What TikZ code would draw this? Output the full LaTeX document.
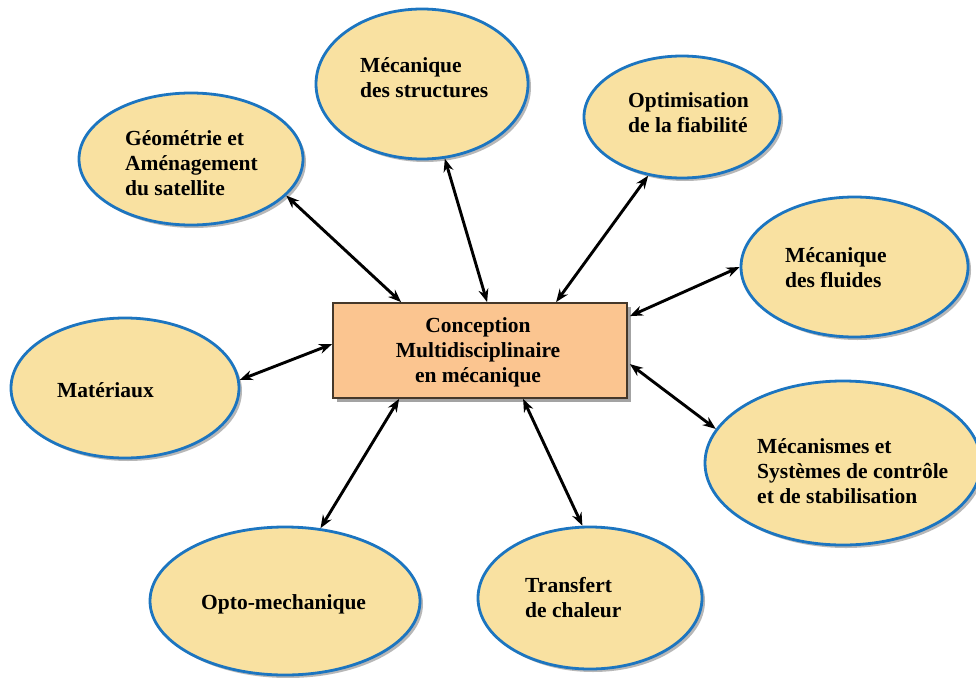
\documentclass[tikz,border=0pt]{standalone}
\usepackage{fontspec}
\setmainfont{Liberation Serif}
\usetikzlibrary{shapes.geometric,shadows,arrows.meta}

\definecolor{bubblefill}{HTML}{F9E1A1}
\definecolor{bubbleline}{HTML}{1C75C0}
\definecolor{corefill}{HTML}{FBC590}
\definecolor{coreline}{HTML}{45382A}

\tikzset{
  bubble/.style={ellipse, draw=bubbleline, line width=2.8pt, fill=bubblefill,
    inner sep=0pt,
    drop shadow={shadow xshift=3pt, shadow yshift=-3pt, fill=black!35, opacity=0.8}},
  core/.style={rectangle, draw=coreline, line width=1.8pt, fill=corefill,
    inner sep=0pt, minimum width=294pt, minimum height=95pt,
    drop shadow={shadow xshift=4pt, shadow yshift=-4pt, fill=black!40, opacity=0.9}},
  txt/.style={font=\fontsize{21.5}{25}\selectfont\bfseries, inner sep=0pt},
  label/.style={txt, anchor=base west, align=left},
  link/.style={line width=2.9pt, {Stealth[length=13pt,width=10pt]}-{Stealth[length=13pt,width=10pt]}}
}

\begin{document}
\begin{tikzpicture}[x=1pt,y=-1pt]
\clip (0,0) rectangle (976,677);
\fill[white] (0,0) rectangle (976,677);

% surrounding disciplines
\node[bubble, minimum width=212pt, minimum height=150pt] (struct) at (422,84) {};
\node[bubble, minimum width=196pt, minimum height=122pt] (optim) at (682,117) {};
\node[bubble, minimum width=224pt, minimum height=132pt] (geo) at (191,159) {};
\node[bubble, minimum width=227pt, minimum height=140pt] (fluid) at (854.5,267) {};
\node[bubble, minimum width=228pt, minimum height=140pt] (mat) at (125,388) {};
\node[bubble, minimum width=276pt, minimum height=164pt] (meca) at (843,463) {};
\node[bubble, minimum width=270pt, minimum height=148pt] (opto) at (285,601) {};
\node[bubble, minimum width=224pt, minimum height=142pt] (heat) at (590,598) {};

% central box
\node[core] (center) at (480,350.5) {};
\node[txt, align=center, anchor=base] (centertext) at (478,382)
  {Conception\\Multidisciplinaire\\en mécanique};

% texts of the disciplines (anchored on the baseline of their last line)
\node[label] (tstruct) at (360,97) {Mécanique\\des structures};
\node[label] (toptim) at (628,132) {Optimisation\\de la fiabilité};
\node[label] (tgeo) at (125,195) {Géométrie et\\Aménagement\\du satellite};
\node[label] (tfluid) at (785,287) {Mécanique\\des fluides};
\node[label] (tmat) at (57,397) {Matériaux};
\node[label] (tmeca) at (757,503) {Mécanismes et\\Systèmes de contrôle\\et de stabilisation};
\node[label] (topto) at (201,609) {Opto-mechanique};
\node[label] (theat) at (525,617) {Transfert\\de chaleur};

% links to the central box
\draw[link] (geo.-21) -- ([xshift=69pt]center.north west);
\draw[link] (struct.-73) -- ([xshift=155pt]center.north west);
\draw[link] (optim.-120) -- ([xshift=224pt]center.north west);
\draw[link] (fluid.180) -- ([yshift=-14pt,xshift=2pt]center.north east);
\draw[link] (mat.4) -- ([yshift=-42pt]center.north west);
\draw[link] (meca.165) -- ([yshift=-62pt,xshift=2pt]center.north east);
\draw[link] (opto.64) -- ([xshift=67pt]center.south west);
\draw[link] (heat.96) -- ([xshift=191pt]center.south west);
\end{tikzpicture}
\end{document}
